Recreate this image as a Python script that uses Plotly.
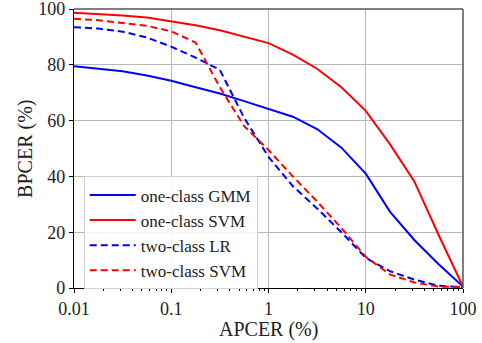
import plotly.graph_objects as go

apcer = [0.01, 0.0178, 0.0316, 0.0562, 0.1, 0.178, 0.316, 0.562, 1, 1.78, 3.16, 5.62, 10, 17.8, 31.6, 56.2, 100]

gmm_1c = [79.5, 78.6, 77.7, 76.2, 74.3, 72.0, 69.7, 67.0, 64.3, 61.4, 57.0, 50.3, 41.0, 27.3, 17.2, 8.5, 0.5]
svm_1c = [98.7, 98.3, 97.7, 97.0, 95.6, 94.2, 92.4, 90.2, 87.8, 83.7, 78.6, 72.0, 63.5, 51.5, 38.2, 19.0, 0.5]
lr_2c = [93.5, 93.0, 91.9, 89.8, 86.5, 82.6, 78.2, 61.0, 47.0, 36.5, 28.5, 20.0, 10.8, 6.0, 3.0, 0.8, 0.3]
svm_2c = [96.5, 96.0, 95.0, 94.0, 92.0, 88.0, 72.0, 58.0, 49.5, 40.0, 31.0, 21.5, 11.2, 4.8, 2.0, 0.5, 0.3]

names = ["one-class GMM", "one-class SVM", "two-class LR", "two-class SVM"]
colors = ["#0000ff", "#ff0000", "#0000ff", "#ff0000"]
dashes = ["solid", "solid", "7px,4px", "7px,4px"]
series = [gmm_1c, svm_1c, lr_2c, svm_2c]

x_tickvals = [0.01, 0.1, 1, 10, 100]
x_ticktext = ["0.01", "0.1", "1", "10", "100"]
y_tickvals = [0, 20, 40, 60, 80, 100]

FONT = "Liberation Serif"
TXT = "#222222"

fig = go.Figure()
for n, c, d, ys in zip(names, colors, dashes, series):
    fig.add_trace(go.Scatter(x=apcer, y=ys, mode="lines", name=n,
                             line=dict(color=c, width=2, dash=d)))

fig.update_layout(
    width=482, height=343,
    margin=dict(l=74, r=19, t=9, b=55),
    paper_bgcolor="white", plot_bgcolor="white",
    font=dict(family=FONT, size=18, color=TXT),
    showlegend=True,
    legend=dict(x=0.025, y=0.40, xanchor="left", yanchor="top",
                bgcolor="rgba(255,255,255,0.85)", bordercolor="#d0d0d0", borderwidth=1,
                font=dict(family=FONT, size=17, color=TXT),
                itemwidth=46, tracegroupgap=0),
    annotations=[
        dict(text="BPCER (%)", xref="paper", yref="paper", x=-0.125, y=0.5,
             textangle=-90, showarrow=False, xanchor="center", yanchor="middle",
             font=dict(family=FONT, size=20, color=TXT)),
        dict(text="APCER (%)", xref="paper", yref="paper", x=0.5, y=-0.148,
             showarrow=False, xanchor="center", yanchor="middle",
             font=dict(family=FONT, size=20, color=TXT)),
    ],
)
fig.update_xaxes(
    type="log", range=[-2, 2], automargin=False,
    tickvals=x_tickvals, ticktext=x_ticktext,
    showgrid=True, gridcolor="#b8b8b8", gridwidth=1,
    showline=True, linecolor="black", linewidth=1.2,
    ticks="outside", ticklen=4, tickcolor="black",
    minor=dict(ticks="outside", ticklen=2, tickcolor="black", dtick="D1", showgrid=False),
    zeroline=False,
)
fig.update_yaxes(
    range=[0, 100.02], tickvals=y_tickvals, automargin=False, ticklabeloverflow="allow",
    showgrid=True, gridcolor="#b8b8b8", gridwidth=1,
    showline=True, linecolor="black", linewidth=1.2,
    ticks="outside", ticklen=4, tickcolor="black",
    zeroline=False,
)
fig.add_shape(type="line", xref="paper", yref="paper", x0=0, x1=1, y0=1, y1=1,
              line=dict(color="#555555", width=1.5), layer="above")
fig.add_shape(type="line", xref="paper", yref="paper", x0=1, x1=1, y0=0, y1=1,
              line=dict(color="#555555", width=1.5), layer="above")

fig.write_html("out.html", config={"displayModeBar": False},
               post_script="document.body.style.margin='0px';document.body.style.padding='0px';")
